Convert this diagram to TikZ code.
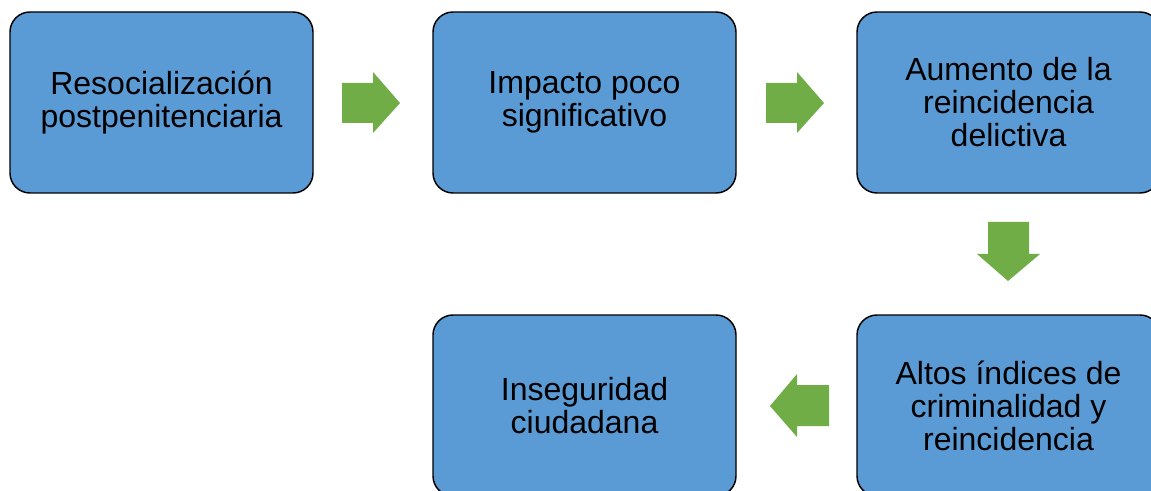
\documentclass[tikz,border=0pt]{standalone}
\usepackage{fontspec}
\setmainfont{Liberation Sans}
\definecolor{boxblue}{HTML}{5B9BD5}
\definecolor{arrgreen}{HTML}{70AD47}
\begin{document}
\begin{tikzpicture}[x=0.75pt,y=-0.75pt,
  stepbox/.style={draw=black, line width=1.1pt, fill=boxblue, rounded corners=15pt,
    minimum width=227.25pt, minimum height=135.75pt, inner sep=0pt,
    align=center, font=\fontsize{24pt}{24.75pt}\selectfont, text=black},
  blockarrow/.style={fill=arrgreen, draw=none}]
\useasboundingbox (0,0) rectangle (1151,491);
\node[stepbox] (b1) at (161.5,102.5) {Resocialización\\postpenitenciaria};
\node[stepbox] (b2) at (584.5,102.5) {Impacto poco\\significativo};
\node[stepbox] (b3) at (1008.5,102.5) {Aumento de la\\reincidencia\\delictiva};
\node[stepbox] (b4) at (1008.5,405.5) {Altos índices de\\criminalidad y\\reincidencia};
\node[stepbox] (b5) at (584.5,405.5) {Inseguridad\\ciudadana};
\fill[blockarrow] (342,83) -- (373,83) -- (373,72) -- (400,103) -- (373,133) -- (373,123) -- (342,123) -- cycle;
\fill[blockarrow] (766,83) -- (797,83) -- (797,72) -- (824,103) -- (797,133) -- (797,123) -- (766,123) -- cycle;
\fill[blockarrow] (988,222) -- (1029,222) -- (1029,254) -- (1040,254) -- (1008,281) -- (977,254) -- (988,254) -- cycle;
\fill[blockarrow] (829,385) -- (797,385) -- (797,374) -- (770,406) -- (797,437) -- (797,426) -- (829,426) -- cycle;
\end{tikzpicture}
\end{document}
